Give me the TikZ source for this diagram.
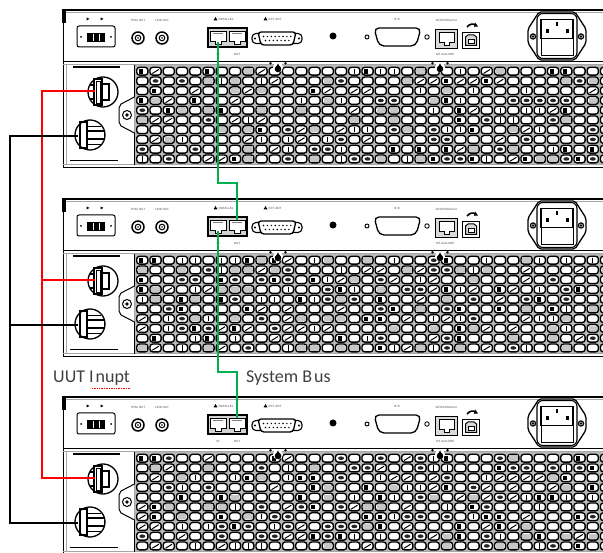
\documentclass[tikz,border=0pt]{standalone}
\usepackage{fontspec}
\newfontfamily\calib{Carlito}
\newfontfamily\smallsans{Liberation Sans}
\usetikzlibrary{calc}
\definecolor{wgreen}{RGB}{0,176,80}
\definecolor{wred}{RGB}{255,0,0}
\definecolor{lblgray}{RGB}{64,64,64}
\tikzset{
 redw/.style={wred, line width=1.5pt},
 blkw/.style={black, line width=1.3pt},
 grnw/.style={wgreen, line width=1.6pt},
 hole/.style={draw=black, line width=1.35pt, fill=white, rounded corners=2.8pt},
 gline/.style={gray!70, line width=0.6pt},
 part/.style={draw=black, line width=1.2pt},
 minilbl/.style={font=\smallsans\fontsize{3}{3}\selectfont, text=black!70, inner sep=0pt},
 lbl/.style={font=\calib\fontsize{18}{21}\selectfont, text=lblgray, inner sep=0pt, anchor=base west},
}
\newcommand\devpanel[2]{%
\begin{scope}[shift={(0,#1)}]
 \pgfmathsetseed{#1}
 \fill[white] (63,0) rectangle (606,160);
 % grille
 \fill[gray!55] (134,56) rectangle (606,156);
 \foreach \i in {0,...,35}{\foreach \j in {0,...,9}{
   \pgfmathsetmacro\xx{136+13.25*\i}
   \pgfmathsetmacro\yy{57.5+9.75*\j}
   \draw[hole] (\xx+0.7,\yy+0.8) rectangle ++(11.2,7.8);
   \pgfmathrandominteger{\rr}{0}{8}
   \ifcase\rr
     \fill (\xx+3,\yy+2.6) rectangle ++(4,4.6);
   \or \draw[line width=1pt] (\xx+3,\yy+7) -- (\xx+9.5,\yy+3);
   \or \fill[black!85] (\xx+6.3,\yy+4.7) ellipse (3pt and 1.8pt);
   \or \draw[line width=0.8pt] (\xx+6.3,\yy+2.2) -- (\xx+6.3,\yy+7.4);
   \or \fill[gray!45] (\xx+2,\yy+2) rectangle ++(8.6,5.4);
   \else \fi
 }}
 % frame
 \draw[line width=1.8pt] (63,0.8) -- (606,0.8);
 \draw[gline] (66,3.5) -- (606,3.5);
 \draw[line width=1.4pt] (63.5,0) -- (63.5,159);
 \fill (62,0) rectangle (66,14);
 \draw[line width=1.4pt] (63,52.5) -- (606,52.5);
 \draw[gline] (63,55.5) -- (606,55.5);
 \draw[gline] (63,155.5) -- (606,155.5);
 \draw[line width=1.5pt] (63,158.5) -- (606,158.5);
 \draw[line width=1pt] (134,56) -- (134,156);
 \draw[gline] (66.5,56) -- (66.5,156);
 \draw[line width=1.2pt] (73,58) -- (120,58);
 \draw[line width=1.2pt] (70,151.5) -- (118,151.5);
 % bracket and screw
 \draw[line width=1pt, fill=white] (134.5,88) -- (121,95) -- (119,99) -- (119,113) -- (121,117) -- (134.5,124);
 \draw[line width=1pt] (127,106) circle (4.5pt);
 \fill (127,106) circle (1.8pt);
 % breakers
 \draw[part, line width=1.3pt, fill=white] (103,83) circle (15pt);
 \draw[part, line width=1.3pt] (94,70) rectangle (102,96);
 \draw[part, line width=0.6pt] (96,72) rectangle (100,94);
 \draw[part, line width=1.3pt] (102,75) rectangle (109,91);
 \draw[part] (89.5,76) -- (94,76) (89.5,90) -- (94,90);
 \draw[part, line width=1.3pt, fill=white] (90,126) circle (15pt);
 \draw[part, line width=1.3pt] (80,113) rectangle (87,139);
 \draw[part, line width=1.3pt] (87,122) rectangle (104.5,130);
 \draw[part, line width=0.8pt] (87,117) -- (101,117) (87,135) -- (101,135);
 \coordinate (rin#2) at (95,82);
 \coordinate (bin#2) at (78,127);
 % DB9 and triangles
 \draw[line width=1pt, rounded corners=2pt] (77,17) rectangle (115,38);
 \fill (87,24) rectangle (105,33);
 \draw[white, line width=0.9pt] (93,25) -- (93,32) (99,25) -- (99,32);
 \fill (81,28) circle (1pt) (111,28) circle (1pt);
 \fill (86.5,8.5) -- (89.5,10) -- (86.5,11.5) -- cycle;
 \fill (100.5,8.5) -- (103.5,10) -- (100.5,11.5) -- cycle;
 % BNC
 \foreach \bx in {138,162}{
   \draw[line width=1.5pt] (\bx,29) circle (6pt);
   \draw[line width=1pt] (\bx,29) circle (2.8pt);
   \fill (\bx,29) circle (0.8pt);
 }
 \node[minilbl] (tro#2) at (138,11) {TRIG OUT};
 \node[minilbl] (lko#2) at (162,11) {LINK OUT};
 % RJ45 pair
 \draw[line width=1.8pt, fill=gray!35] (208,19) rectangle (247,38);
 \foreach \jx in {218,237}{
   \draw[line width=0.9pt, fill=white] (\jx-8,22) -- (\jx+8,22) -- (\jx+8,32) -- (\jx+3,32) -- (\jx+3,35) -- (\jx-3,35) -- (\jx-3,32) -- (\jx-8,32) -- cycle;
   \draw[gray, line width=0.4pt] (\jx-5,24) -- (\jx+5,24);
 }
 \coordinate (jl#2) at (218,33);
 \coordinate (jr#2) at (237,22);
 \fill (213.5,11.5) -- (215.5,8) -- (217.5,11.5) -- cycle;
 \node[minilbl, anchor=west] (par#2) at (218.5,10) {PARALLEL};
 \node[minilbl] (pin#2) at (218,45) {IN};
 \node[minilbl] (pout#2) at (237,45) {OUT};
 % DB15
 \draw[line width=1.1pt, rounded corners=4pt] (252,24.5) rectangle (302,34.5);
 \draw[line width=1.3pt, fill=white, rounded corners=3pt] (258,23) -- (296,23) -- (293,36) -- (261,36) -- cycle;
 \foreach \p in {0,...,7}{\fill (263.5+\p*3.9,27.5) circle (0.8pt);}
 \foreach \p in {0,...,6}{\fill (265.5+\p*3.9,31.5) circle (0.8pt);}
 \fill (255,29.5) circle (1.2pt) (299,29.5) circle (1.2pt);
 \fill (263.5,11.5) -- (265.5,8) -- (267.5,11.5) -- cycle;
 \node[minilbl, anchor=west] (ext#2) at (268.5,10) {EXT ANT};
 % dot
 \fill (333,27) circle (3.5pt);
 % GPIB
 \draw[line width=1.3pt, fill=white, rounded corners=5pt] (374,19) -- (421,19) -- (416,37) -- (379,37) -- cycle;
 \draw[line width=0.9pt] (367,28) circle (2pt);
 \draw[line width=0.9pt] (427,28) circle (2.2pt);
 \node[minilbl] (ifx#2) at (397,10) {IF-E};
 % Ethernet
 \draw[line width=1.6pt, fill=gray!30] (435.5,20.5) rectangle (457.5,39.5);
 \draw[line width=0.9pt, fill=white] (439,23) -- (454,23) -- (454,33) -- (449,33) -- (449,36) -- (444,36) -- (444,33) -- (439,33) -- cycle;
 \node[minilbl] (eth#2) at (446,11) {10/100 Ethernet};
 \node[minilbl] (mdi#2) at (445,45.5) {MT Auto MDI};
 % USB-B
 \draw[line width=1.6pt, fill=white] (462.5,23.5) rectangle (479.5,39.5);
 \draw[line width=1pt, fill=gray!30] (465.5,28) -- (468,26) -- (474,26) -- (476.5,28) -- (476.5,36.5) -- (465.5,36.5) -- cycle;
 \draw[line width=0.8pt, fill=white] (468,30) rectangle (474,34);
 \draw[line width=1.6pt] (467,18) .. controls (470,14.5) and (473,14.5) .. (476,16);
 \fill (478,17.5) -- (475,13.5) -- (474,17.8) -- cycle;
 % AC inlet
 \draw[line width=1.3pt, fill=white, rounded corners=2pt] (539,3) -- (575,3) -- (586,20) -- (586,34) -- (575,51) -- (539,51) -- (528,34) -- (528,20) -- cycle;
 \draw[line width=1.1pt, rounded corners=6pt] (537,4.5) rectangle (577,49.5);
 \draw[line width=1.2pt] (533,27.5) circle (2.6pt);
 \fill (533,27.5) circle (1.3pt);
 \draw[line width=1.2pt] (581,27.5) circle (2.6pt);
 \fill (581,27.5) circle (1.3pt);
 \draw[line width=1.8pt] (541,10.5) rectangle (573,29.5);
 \fill (555.7,13) rectangle (558.3,17.5);
 \fill (545.5,20.5) rectangle (548.5,24);
 \fill (565.5,20.5) rectangle (568.5,24);
 \draw[line width=1pt] (541,30) -- (541,47) -- (573,47) -- (573,30);
 % grille screws
 \foreach \sx in {278,440}{
   \fill[white] (\sx,58.5) circle (5pt);
   \fill (\sx,60) circle (3.3pt);
   \fill (\sx-2.4,58.8) -- (\sx,54.5) -- (\sx+2.4,58.8) -- cycle;
   \fill (\sx-7.5,54.2) circle (1.4pt) (\sx+7.5,54.2) circle (1.4pt);
 }
\end{scope}}

\begin{document}
\begin{tikzpicture}[x=1pt, y=-1pt]
 \useasboundingbox (0,0) rectangle (603,553);
 \clip (0,0) rectangle (603,553);
 \fill[white] (0,0) rectangle (603,553);
 \devpanel{9}{A}
 \devpanel{198}{B}
 \devpanel{396}{C}
 \coordinate (rbus) at (42,0);
 \coordinate (kbus) at (10,0);
 \coordinate (g1) at (0,183);
 \coordinate (g2) at (0,372);
 % UUT input wiring
 \draw[redw] (rinA) -- (rinA -| rbus) -- (rinC -| rbus) -- (rinC);
 \draw[redw] (rinB -| rbus) -- (rinB);
 \draw[blkw] (binA) -- (binA -| kbus) -- (binC -| kbus) -- (binC);
 \draw[blkw] (binB -| kbus) -- (binB);
 % system bus
 \draw[grnw] (jlA) -- (jlA |- g1) -- (jrB |- g1) -- (jrB);
 \draw[grnw] (jlB) -- (jlB |- g2) -- (jrC |- g2) -- (jrC);
 % labels
 \node[lbl] (uut) at (53,383) {UUT I\kern2pt nupt};
 \node[lbl] (sbus) at (246,383) {System B\kern2pt us};
 \draw[wred, densely dotted, line width=0.7pt] ($(uut.base west)+(39,5)$) -- ($(uut.base east)+(0,5)$);
\end{tikzpicture}
\end{document}
